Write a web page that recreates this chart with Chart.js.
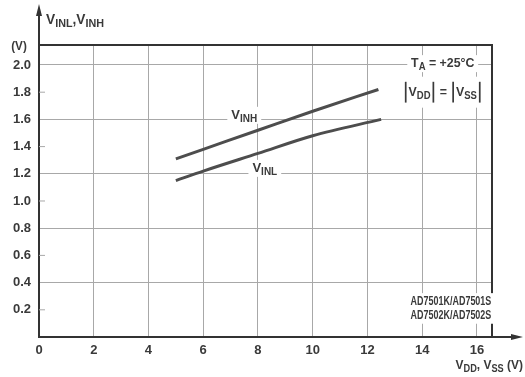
<!DOCTYPE html>
<html>
<head>
<meta charset="utf-8">
<script src="https://cdn.jsdelivr.net/npm/chart.js@4.4.1/dist/chart.umd.min.js"></script>
<style>
  html, body { margin: 0; padding: 0; background: #fff; }
</style>
</head>
<body>
<canvas id="chart" width="525" height="377"></canvas>
<script>
// data
const vddHigh = [5, 6, 8, 10, 12.4];
const vinh = [1.31, 1.38, 1.52, 1.66, 1.82];
const vddLow = [5, 6, 8, 10, 12.5];
const vinl = [1.15, 1.22, 1.35, 1.48, 1.60];

const xTicks = [0, 2, 4, 6, 8, 10, 12, 14, 16];
const yTicks = [0.2, 0.4, 0.6, 0.8, 1.0, 1.2, 1.4, 1.6, 1.8, 2.0];
const yGrid = [0.4, 0.8, 1.2, 1.6, 2.0];

const INK = "#3a3a3a";
const GRID = "#a8a8a8";
const FONT = "'Liberation Sans', Arial, sans-serif";

// text with subscripts: parts = [[text, kind], ...], kind "bar" gives a tall bar
function richText(ctx, parts, x, y, opt) {
  const size = opt.size || 12;
  const sx = opt.sx || 1;
  const subSize = Math.round(size * 0.78);
  ctx.save();
  let w = 0;
  const widths = parts.map(([t, kind]) => {
    if (kind === "bar") return 6;
    ctx.font = "bold " + (kind === "sub" ? subSize : size) + "px " + FONT;
    return ctx.measureText(t).width;
  });
  widths.forEach((v) => (w += v));
  ctx.translate(x, y);
  ctx.scale(sx, 1);
  let x0 = opt.align === "left" ? 0 : opt.align === "right" ? -w : -w / 2;
  if (opt.bg) {
    const pad = opt.bgPad || 2;
    ctx.fillStyle = "#fff";
    ctx.fillRect(x0 - 4, -size / 2 - pad, w + 8, size + 2 * pad);
  }
  ctx.fillStyle = INK;
  ctx.strokeStyle = INK;
  ctx.textBaseline = "middle";
  ctx.textAlign = "left";
  parts.forEach(([t, kind], i) => {
    if (kind === "bar") {
      ctx.lineWidth = 1.8;
      ctx.beginPath();
      ctx.moveTo(x0 + 3, -size * 0.8);
      ctx.lineTo(x0 + 3, size * 0.8);
      ctx.stroke();
    } else {
      ctx.font = "bold " + (kind === "sub" ? subSize : size) + "px " + FONT;
      ctx.fillText(t, x0, kind === "sub" ? size * 0.3 : 0);
    }
    x0 += widths[i];
  });
  ctx.restore();
}

const frame = {
  id: "frame",
  afterDraw(chart) {
    const { ctx, chartArea: a, scales } = chart;
    const px = (v) => scales.x.getPixelForValue(v);
    const py = (v) => scales.y.getPixelForValue(v);
    ctx.save();
    ctx.strokeStyle = "#333";
    ctx.fillStyle = "#333";
    ctx.lineWidth = 2;

    // top + right border
    ctx.beginPath();
    ctx.moveTo(a.left, a.top);
    ctx.lineTo(a.right, a.top);
    ctx.lineTo(a.right, a.bottom);
    ctx.stroke();

    // axis arrows
    ctx.beginPath();
    ctx.moveTo(a.left, a.top);
    ctx.lineTo(a.left, 12);
    ctx.moveTo(a.right, a.bottom);
    ctx.lineTo(516, a.bottom);
    ctx.stroke();
    ctx.beginPath();
    ctx.moveTo(a.left, 4);
    ctx.lineTo(a.left - 3, 16);
    ctx.lineTo(a.left + 3, 16);
    ctx.closePath();
    ctx.moveTo(523, a.bottom);
    ctx.lineTo(511, a.bottom - 3);
    ctx.lineTo(511, a.bottom + 3);
    ctx.closePath();
    ctx.fill();

    // short inner ticks on y axis where no grid line
    ctx.lineWidth = 1;
    ctx.strokeStyle = GRID;
    yTicks.forEach((v) => {
      if (yGrid.some((g) => Math.abs(g - v) < 1e-6)) return;
      ctx.beginPath();
      ctx.moveTo(a.left, py(v));
      ctx.lineTo(a.left + 6, py(v));
      ctx.stroke();
    });
    ctx.restore();

    // curve labels and notes
    richText(ctx, [["V", ""], ["INH", "sub"]], px(7.5), py(1.63), { bg: true, size: 13, sx: 1 });
    richText(ctx, [["V", ""], ["INL", "sub"]], px(8.25), py(1.24), { bg: true, size: 13, sx: 1 });
    richText(ctx, [["T", ""], ["A", "sub"], [" = +25°C", ""]], px(14.75), py(2.01), { bg: true, size: 13, sx: 0.95 });
    richText(
      ctx,
      [["", "bar"], ["V", ""], ["DD", "sub"], ["", "bar"], [" = ", ""], ["", "bar"], ["V", ""], ["SS", "sub"], ["", "bar"]],
      px(14.75), py(1.8), { bg: true, bgPad: 9, size: 13, sx: 0.95 }
    );
    richText(ctx, [["AD7501K/AD7501S", ""]], px(15.05), py(0.26), { bg: true, size: 13, sx: 0.69 });
    richText(ctx, [["AD7502K/AD7502S", ""]], px(15.05), py(0.16), { bg: true, size: 13, sx: 0.69 });

    // axis titles
    richText(ctx, [["V", ""], ["INL", "sub"], [",", ""], ["V", ""], ["INH", "sub"]], 46, 20, { align: "left", size: 14, sx: 0.98 });
    richText(ctx, [["(V)", ""]], 19, 46, { size: 13, sx: 0.9 });
    richText(ctx, [["V", ""], ["DD", "sub"], [", ", ""], ["V", ""], ["SS", "sub"], [" (V)", ""]], 523, 365, { align: "right", size: 13, sx: 0.92 });
  },
};

const line = (xs, ys) => xs.map((x, i) => ({ x, y: ys[i] }));

new Chart(document.getElementById("chart"), {
  type: "line",
  data: {
    datasets: [
      {
        label: "VINH",
        data: line(vddHigh, vinh),
        borderColor: "#4d4d4d",
        borderWidth: 3,
        pointRadius: 0,
        cubicInterpolationMode: "monotone",
      },
      {
        label: "VINL",
        data: line(vddLow, vinl),
        borderColor: "#4d4d4d",
        borderWidth: 3,
        pointRadius: 0,
        cubicInterpolationMode: "monotone",
      },
    ],
  },
  options: {
    responsive: false,
    animation: false,
    layout: { padding: { top: 45, right: 33, left: 0, bottom: 0 } },
    plugins: { legend: { display: false }, tooltip: { enabled: false } },
    scales: {
      x: {
        type: "linear",
        min: 0,
        max: 16.55,
        afterBuildTicks: (s) => { s.ticks = xTicks.map((v) => ({ value: v })); },
        afterFit: (s) => { s.height = 40; },
        ticks: {
          color: INK,
          font: { family: FONT, size: 13, weight: "bold" },
          padding: 6,
          maxRotation: 0,
          autoSkip: false,
          callback: (v) => String(v),
        },
        grid: {
          drawTicks: false,
          color: (c) => (c.tick && c.tick.value > 0 ? GRID : "transparent"),
          lineWidth: 1,
        },
        border: { color: "#333", width: 2 },
      },
      y: {
        min: 0,
        max: 2.147,
        afterBuildTicks: (s) => { s.ticks = yTicks.map((v) => ({ value: v })); },
        afterFit: (s) => { s.width = 39; },
        ticks: {
          color: INK,
          font: { family: FONT, size: 13, weight: "bold" },
          padding: 8,
          autoSkip: false,
          callback: (v) => v.toFixed(1),
        },
        grid: {
          drawTicks: false,
          color: (c) =>
            c.tick && yGrid.some((g) => Math.abs(g - c.tick.value) < 1e-6) ? GRID : "transparent",
          lineWidth: 1,
        },
        border: { color: "#333", width: 2 },
      },
    },
  },
  plugins: [frame],
});
</script>
</body>
</html>
